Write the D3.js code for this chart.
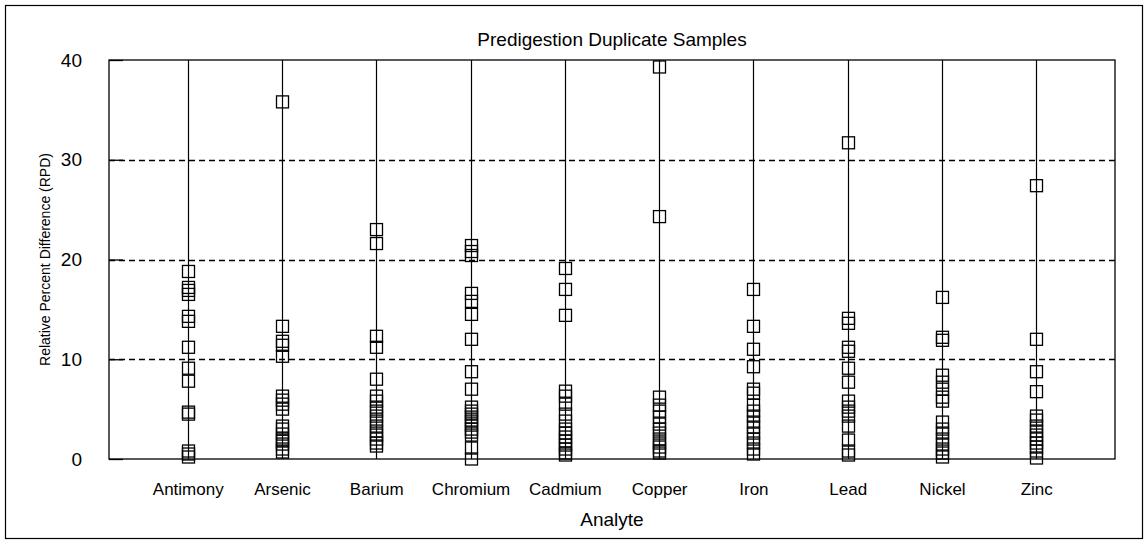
<!DOCTYPE html>
<html>
<head>
<meta charset="utf-8">
<script src="https://cdn.jsdelivr.net/npm/d3@7"></script>
<style>
  body { margin: 0; background: #fff; }
  text { font-family: "Liberation Sans", Arial, sans-serif; fill: #000; }
</style>
</head>
<body>
<svg id="chart" width="1148" height="544"></svg>
<script>
// analytes along the x axis
var analytes = ["Antimony", "Arsenic", "Barium", "Chromium", "Cadmium", "Copper", "Iron", "Lead", "Nickel", "Zinc"];

// RPD values, one list per analyte
var antimony = [18.8, 17.2, 16.9, 16.5, 14.3, 13.8, 11.2, 9.1, 7.8, 4.7, 4.5, 0.8, 0.5, 0.2];
var arsenic  = [35.8, 13.3, 11.8, 11.4, 10.3, 6.3, 5.9, 5.5, 5.0, 3.3, 3.0, 2.5, 2.0, 1.8, 1.5, 1.0, 0.7];
var barium   = [23.0, 21.6, 12.3, 11.2, 8.0, 6.3, 5.8, 5.2, 4.8, 4.3, 3.8, 3.3, 2.8, 2.4, 2.0, 1.6, 1.3];
var chromium = [21.4, 20.8, 20.4, 16.6, 15.8, 14.5, 12.0, 8.75, 7.0, 5.2, 4.8, 4.5, 4.2, 3.8, 3.4, 3.0, 2.7, 2.4, 1.1, 0.0];
var cadmium  = [19.1, 17.0, 14.4, 6.8, 6.3, 5.5, 4.5, 3.8, 3.0, 2.6, 2.2, 1.8, 1.4, 1.0, 0.6, 0.4];
var copper   = [39.3, 24.3, 6.2, 5.4, 4.8, 4.2, 3.5, 3.0, 2.6, 2.0, 1.6, 1.2, 0.8, 0.6];
var iron     = [17.0, 13.3, 11.0, 9.25, 7.0, 6.6, 5.4, 4.8, 4.3, 3.7, 3.2, 2.6, 2.0, 1.6, 1.0, 0.5];
var lead     = [31.7, 14.1, 13.6, 11.2, 10.8, 9.1, 7.7, 5.8, 5.2, 4.8, 4.3, 3.3, 1.9, 0.8, 0.4];
var nickel   = [16.2, 12.2, 11.9, 8.4, 7.7, 7.0, 6.2, 5.8, 3.7, 3.0, 2.6, 2.0, 1.5, 1.0, 0.6, 0.2];
var zinc     = [27.4, 12.0, 8.75, 6.75, 4.3, 3.9, 3.3, 2.8, 2.4, 2.0, 1.6, 1.2, 0.8, 0.1];

var yTicks = [0, 10, 20, 30, 40];
var gridValues = [10, 20, 30];

var series = [antimony, arsenic, barium, chromium, cadmium, copper, iron, lead, nickel, zinc];

var svg = d3.select("#chart"),
    margin = {top: 60, right: 33, bottom: 85, left: 109},
    width = +svg.attr("width") - margin.left - margin.right,
    height = +svg.attr("height") - margin.top - margin.bottom;

// outer frame
svg.append("rect")
    .attr("x", 5.5).attr("y", 5.5)
    .attr("width", 1137).attr("height", 533)
    .attr("fill", "none")
    .attr("stroke", "#000")
    .attr("stroke-width", 1.2);

var g = svg.append("g").attr("transform", "translate(" + margin.left + "," + margin.top + ")");

var x = d3.scalePoint()
    .domain(analytes)
    .range([0, width])
    .padding(0.835);

var y = d3.scaleLinear()
    .domain([0, 40])
    .range([height, 0]);

// dashed grid
g.append("g")
  .selectAll("line")
  .data(gridValues)
  .enter().append("line")
    .attr("x1", 0)
    .attr("x2", width)
    .attr("y1", function(d) { return Math.round(y(d)) + 0.5; })
    .attr("y2", function(d) { return Math.round(y(d)) + 0.5; })
    .attr("stroke", "#000")
    .attr("stroke-width", 1.3)
    .attr("stroke-dasharray", "6,4");

// y axis: inward ticks, labels only
var yAxis = g.append("g")
    .call(d3.axisLeft(y).tickValues(yTicks).tickSize(-14).tickPadding(27).tickFormat(d3.format("d")));
yAxis.select(".domain").remove();
yAxis.selectAll(".tick line").attr("stroke-width", 1.3);
yAxis.selectAll(".tick text")
    .attr("font-size", 19)
    .attr("font-family", "Liberation Sans, Arial, sans-serif");

// x labels
var xAxis = g.append("g")
    .attr("transform", "translate(0," + height + ")")
    .call(d3.axisBottom(x).tickSize(0).tickPadding(24));
xAxis.select(".domain").remove();
xAxis.selectAll(".tick text")
    .attr("font-size", 17)
    .attr("font-family", "Liberation Sans, Arial, sans-serif");

// vertical spikes for each analyte
g.append("g")
  .selectAll("line")
  .data(analytes)
  .enter().append("line")
    .attr("x1", function(d) { return Math.round(x(d)) + 0.5; })
    .attr("x2", function(d) { return Math.round(x(d)) + 0.5; })
    .attr("y1", 0)
    .attr("y2", height)
    .attr("stroke", "#000")
    .attr("stroke-width", 1.2);

// square markers
var sz = 12;
g.append("g")
  .selectAll("g")
  .data(series)
  .enter().append("g")
  .each(function(vals, i) {
    d3.select(this).selectAll("rect")
      .data(vals)
      .enter().append("rect")
        .attr("x", Math.round(x(analytes[i])) + 0.5 - sz / 2)
        .attr("y", function(d) { return y(d) - sz / 2; })
        .attr("width", sz)
        .attr("height", sz)
        .attr("fill", "none")
        .attr("stroke", "#000")
        .attr("stroke-width", 1.3);
  });

// plot frame
g.append("rect")
    .attr("x", 0).attr("y", 0)
    .attr("width", width).attr("height", height)
    .attr("fill", "none")
    .attr("stroke", "#000")
    .attr("stroke-width", 1.3);

// titles
svg.append("text")
    .attr("x", margin.left + width / 2)
    .attr("y", 46)
    .attr("text-anchor", "middle")
    .attr("font-size", 19)
    .text("Predigestion Duplicate Samples");

svg.append("text")
    .attr("x", margin.left + width / 2)
    .attr("y", 526)
    .attr("text-anchor", "middle")
    .attr("font-size", 19)
    .text("Analyte");

svg.append("text")
    .attr("transform", "translate(50," + (margin.top + height / 2) + ") rotate(-90)")
    .attr("text-anchor", "middle")
    .attr("font-size", 14)
    .text("Relative Percent Difference (RPD)");
</script>
</body>
</html>
